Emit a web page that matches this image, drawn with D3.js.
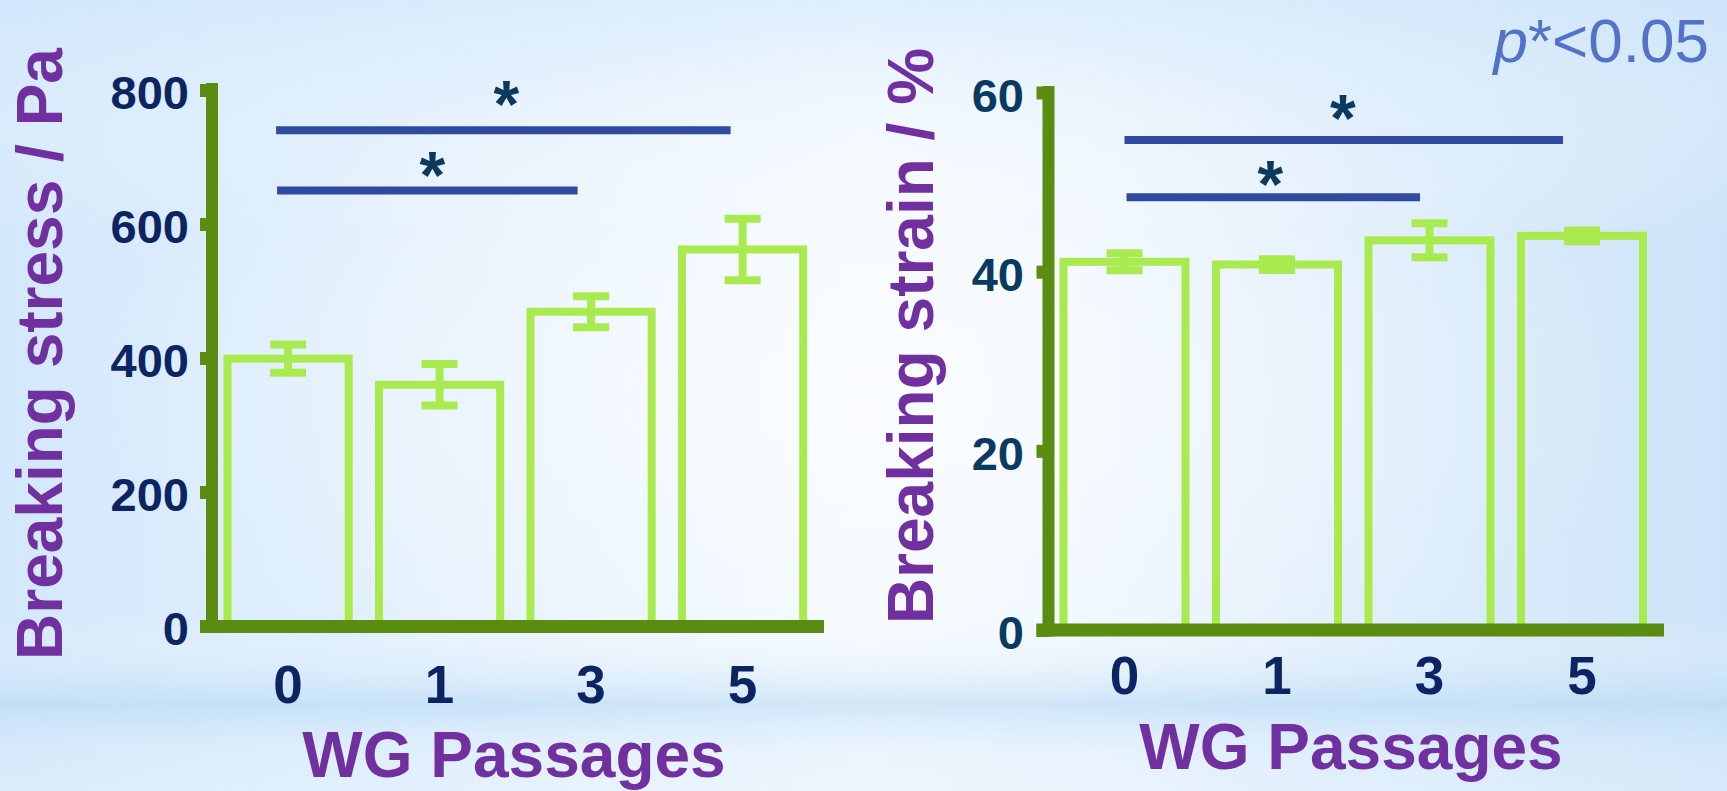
<!DOCTYPE html>
<html>
<head>
<meta charset="utf-8">
<script src="https://cdn.jsdelivr.net/npm/d3@7/dist/d3.min.js"></script>
<style>
  html, body { margin: 0; padding: 0; overflow: hidden; background: #eaf4fd; }
  svg { display: block; font-family: "Liberation Sans", Arial, Helvetica, sans-serif; }
</style>
</head>
<body>
<svg id="chart" width="1727" height="791"></svg>
<script>
// ---- data ----
const categories = ["0", "1", "3", "5"];

const stressMean = [399, 360, 469, 562];
const stressErr  = [21, 31, 23, 46];
const stressTicks = [0, 200, 400, 600, 800];

const strainMean = [41.1, 40.8, 43.5, 44.0];
const strainErr  = [0.95, 0.6, 1.9, 0.6];
const strainTicks = [0, 20, 40, 60];

// significance brackets: pairs of groups and the height each bar sits at
const bracketPairs = [["0", "5"], ["0", "3"]];
const stressBracketLevels = [740, 650];
const strainBracketLevels = [54.7, 48.3];

const xTitle = "WG Passages";
const stressTitle = "Breaking stress / Pa";
const strainTitle = "Breaking strain / %";

// ---- styling ----
const axisGreen = "#5a8c12";
const barGreen = "#a9ea4f";
const bracketBlue = "#2f4a9e";
const starNavy = "#0b3a5e";
const purple = "#7030a0";

const svg = d3.select("#chart");
const W = 1727, H = 791;

// ---- background ----
const defs = svg.append("defs");
const gH = defs.append("linearGradient").attr("id", "bgH").attr("x1", 0).attr("x2", 1).attr("y1", 0).attr("y2", 0);
[[0, "#d3e8fb"], [0.5, "#f3f9ff"], [0.62, "#eef6fe"], [1, "#cde4f8"]]
  .forEach(([o, c]) => gH.append("stop").attr("offset", o).attr("stop-color", c));
const gV = defs.append("linearGradient").attr("id", "bgV").attr("x1", 0).attr("x2", 0).attr("y1", 0).attr("y2", 1);
[[0, "#cfe6fb", 0.55], [0.3, "#ffffff", 0.0], [0.78, "#ffffff", 0.0], [0.89, "#b9daf5", 0.65], [0.95, "#dcedfb", 0.35], [1, "#e4f1fd", 0.4]]
  .forEach(([o, c, a]) => gV.append("stop").attr("offset", o).attr("stop-color", c).attr("stop-opacity", a));
const gR = defs.append("radialGradient").attr("id", "bgR").attr("cx", 0.5).attr("cy", 0.5).attr("r", 0.45);
[[0, "#ffffff", 0.6], [1, "#ffffff", 0]]
  .forEach(([o, c, a]) => gR.append("stop").attr("offset", o).attr("stop-color", c).attr("stop-opacity", a));

svg.append("rect").attr("width", W).attr("height", H).attr("fill", "url(#bgH)");
svg.append("rect").attr("width", W).attr("height", H).attr("fill", "url(#bgV)");
svg.append("rect").attr("width", W).attr("height", H).attr("fill", "url(#bgR)");

// ---- one bar panel ----
function drawPanel(opt) {
  const g = svg.append("g");
  const x = d3.scaleBand().domain(categories).range(opt.xRange).paddingInner(0.2).paddingOuter(0.1);
  const y = d3.scaleLinear().domain(opt.yDomain).range(opt.yRange);
  const cx = c => x(c) + x.bandwidth() / 2;

  const rows = categories.map((c, i) => ({ c, v: opt.mean[i], e: opt.err[i] }));

  // bars
  g.selectAll("rect.bar").data(rows).join("rect")
    .attr("class", "bar")
    .attr("x", d => x(d.c))
    .attr("y", d => y(d.v))
    .attr("width", x.bandwidth())
    .attr("height", d => y(0) - y(d.v))
    .attr("fill", "none")
    .attr("stroke", barGreen)
    .attr("stroke-width", 8);

  // error bars
  const eb = g.selectAll("g.err").data(rows).join("g").attr("class", "err")
    .attr("stroke", barGreen).attr("stroke-width", 8);
  eb.append("line")
    .attr("x1", d => cx(d.c)).attr("x2", d => cx(d.c))
    .attr("y1", d => y(d.v - d.e)).attr("y2", d => y(d.v + d.e));
  [-1, 1].forEach(s => {
    eb.append("line")
      .attr("x1", d => cx(d.c) - 18).attr("x2", d => cx(d.c) + 18)
      .attr("y1", d => y(d.v + s * d.e)).attr("y2", d => y(d.v + s * d.e));
  });

  // y axis
  const yAxis = d3.axisLeft(y).tickValues(opt.ticks).tickSize(12).tickPadding(opt.yLabelPad);
  const ya = g.append("g").attr("transform", `translate(${opt.axisX},0)`).call(yAxis);
  ya.select(".domain").remove();
  ya.selectAll(".tick line").attr("stroke", axisGreen).attr("stroke-width", 13);
  ya.selectAll(".tick text")
    .attr("fill", opt.yLabelColor)
    .attr("font-size", 47)
    .attr("font-weight", "bold")
    .attr("dy", "0.4em");

  // axis lines
  g.append("line")
    .attr("x1", opt.axisX).attr("x2", opt.axisX)
    .attr("y1", opt.axisTop).attr("y2", opt.axisBase + 6.5)
    .attr("stroke", axisGreen).attr("stroke-width", 12);
  g.append("line")
    .attr("x1", opt.axisX - 12).attr("x2", opt.axisRight)
    .attr("y1", opt.axisBase).attr("y2", opt.axisBase)
    .attr("stroke", axisGreen).attr("stroke-width", 13);

  // x axis labels
  const xAxis = d3.axisBottom(x).tickSize(0).tickPadding(0);
  const xa = g.append("g").attr("transform", `translate(0,${opt.xLabelBase})`).call(xAxis);
  xa.select(".domain").remove();
  xa.selectAll(".tick text")
    .attr("fill", "#0d2462")
    .attr("font-size", 53)
    .attr("font-weight", "bold")
    .attr("y", 0)
    .attr("dy", 0);

  // significance brackets
  bracketPairs.forEach((p, i) => {
    const lv = opt.levels[i];
    const x1 = cx(p[0]) + opt.bracketShift[i][0];
    const x2 = cx(p[1]) + opt.bracketShift[i][1];
    g.append("line")
      .attr("x1", x1).attr("x2", x2)
      .attr("y1", y(lv)).attr("y2", y(lv))
      .attr("stroke", bracketBlue).attr("stroke-width", 8);
    g.append("text")
      .attr("x", (x1 + x2) / 2 + opt.starShift[i][0])
      .attr("y", y(lv) + opt.starShift[i][1])
      .attr("text-anchor", "middle")
      .attr("font-size", 66)
      .attr("font-weight", "bold")
      .attr("fill", starNavy)
      .text("*");
  });

  // titles
  g.append("text")
    .attr("transform", `translate(${opt.yTitlePos[0]},${opt.yTitlePos[1]}) rotate(-90)`)
    .attr("text-anchor", "middle")
    .attr("font-size", 64)
    .attr("font-weight", "bold")
    .attr("fill", purple)
    .text(opt.yTitle);
  g.append("text")
    .attr("x", opt.xTitlePos[0]).attr("y", opt.xTitlePos[1])
    .attr("text-anchor", "middle")
    .attr("font-size", 64)
    .attr("font-weight", "bold")
    .attr("fill", purple)
    .text(xTitle);
}

drawPanel({
  mean: stressMean, err: stressErr, ticks: stressTicks,
  yDomain: [0, 800], yRange: [626, 90],
  xRange: [212.35, 818.35],
  axisX: 212, axisTop: 83, axisBase: 626.5, axisRight: 824,
  yLabelPad: 11, yLabelColor: "#0d2462",
  xLabelBase: 703,
  levels: stressBracketLevels,
  bracketShift: [[-12, -12], [-11, -13.5]],
  starShift: [[3, -3], [5, 7]],
  yTitle: stressTitle, yTitlePos: [62, 354],
  xTitlePos: [514, 777]
});

drawPanel({
  mean: strainMean, err: strainErr, ticks: strainTicks,
  yDomain: [0, 60], yRange: [630, 92.5],
  xRange: [1048.25, 1658.25],
  axisX: 1048.5, axisTop: 86, axisBase: 630, axisRight: 1664,
  yLabelPad: 12.5, yLabelColor: "#0a3a60",
  xLabelBase: 694,
  levels: strainBracketLevels,
  bracketShift: [[0, -19], [2, -9.5]],
  starShift: [[-1, 1], [-3, 10]],
  yTitle: strainTitle, yTitlePos: [933, 336],
  xTitlePos: [1351, 769]
});

// significance note
const note = svg.append("text")
  .attr("x", 1709).attr("y", 62)
  .attr("text-anchor", "end")
  .attr("font-size", 62)
  .attr("fill", "#5472c8");
note.append("tspan").attr("font-style", "italic").text("p");
note.append("tspan").text("*<0.05");
</script>
</body>
</html>
